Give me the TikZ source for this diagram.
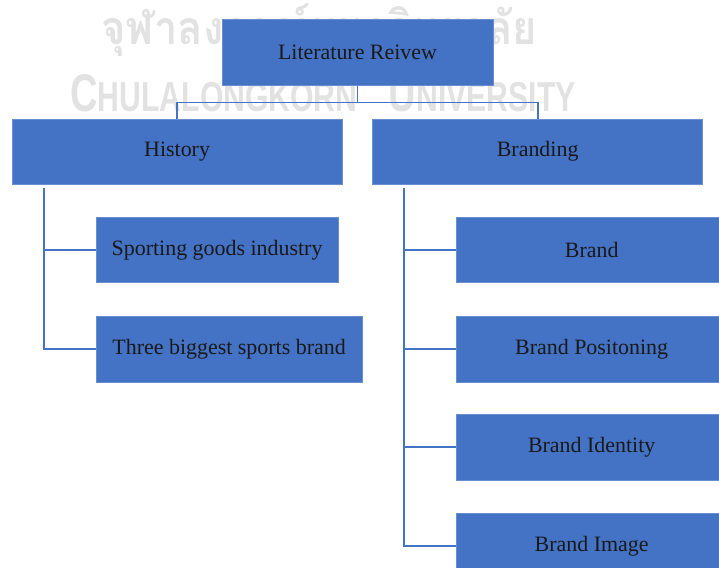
\documentclass[tikz,border=0pt]{standalone}
\usepackage{fontspec}
\setmainfont{Liberation Serif}
\newfontfamily\thaifont[Script=Thai]{Loma}
\newfontfamily\wmfont{Liberation Sans}
\usepackage{graphicx}
\usetikzlibrary{positioning}
\definecolor{boxblue}{HTML}{4472C4}
\definecolor{wmgray}{HTML}{E2E2E2}

\begin{document}
\begin{tikzpicture}[
  x=0.25mm, y=-0.25mm,
  node distance=8mm and 7.5mm,
  box/.style={draw=boxblue!80!white, line width=0.4pt, fill=boxblue, minimum height=16.4mm, inner sep=0pt, align=center, text=black!90, font=\fontsize{15.6}{18}\selectfont},
  link/.style={draw=boxblue, line width=1.3pt},
  wm/.style={inner sep=0pt, text=wmgray, anchor=base west}
]
\useasboundingbox (0,0) rectangle (719,568);
\clip (0,0) rectangle (719,568);
\node[wm, font=\thaifont\bfseries\fontsize{33}{36}\selectfont] (wmth) at (101,45) {\scalebox{0.9}[1]{จุฬาลงกรณ์มหาวิทยาลัย}};
\node[wm, font=\wmfont\bfseries] (wmen) at (70,112) {\scalebox{0.72}[1]{\fontsize{37.7}{40}\selectfont C\fontsize{29.8}{32}\selectfont HULALONGKORN\hspace{31pt}\fontsize{37.7}{40}\selectfont U\fontsize{29.8}{32}\selectfont NIVERSITY}};

\node[box, minimum width=67.75mm] (lit) at (357.5,52.5) {Literature Reivew};
\node[box, minimum width=82.5mm, below=8.25mm of lit, xshift=-45.1mm] (hist) {History};
\node[box, minimum width=82.5mm, right=of hist] (brd) {Branding};
\node[box, minimum width=60.5mm, below right=8mm and 21mm of hist.south west] (spo) {Sporting goods industry};
\node[box, minimum width=66.5mm, below=8.25mm of spo.south west, anchor=north west] (big3) {Three biggest sports brand};
\node[box, minimum width=67.5mm, below right=8mm and 21mm of brd.south west] (brand) {Brand};
\node[box, minimum width=67.5mm, below=8.25mm of brand.south west, anchor=north west] (pos) {Brand Positoning};
\node[box, minimum width=67.5mm, below=8mm of pos.south west, anchor=north west] (ident) {Brand Identity};
\node[box, minimum width=67.5mm, below=8.25mm of ident.south west, anchor=north west] (img) {Brand Image};

\draw[link] (lit.south) -- ++(0,17) -| (hist.north);
\draw[link] (lit.south) -- ++(0,17) -| (brd.north);
\draw[link] ([xshift=8mm, yshift=-0.75mm]hist.south west) |- (spo.west);
\draw[link] ([xshift=8mm, yshift=-0.75mm]hist.south west) |- (big3.west);
\draw[link] ([xshift=8mm, yshift=-0.75mm]brd.south west) |- (brand.west);
\draw[link] ([xshift=8mm, yshift=-0.75mm]brd.south west) |- (pos.west);
\draw[link] ([xshift=8mm, yshift=-0.75mm]brd.south west) |- (ident.west);
\draw[link] ([xshift=8mm, yshift=-0.75mm]brd.south west) |- (img.west);
\end{tikzpicture}
\end{document}
